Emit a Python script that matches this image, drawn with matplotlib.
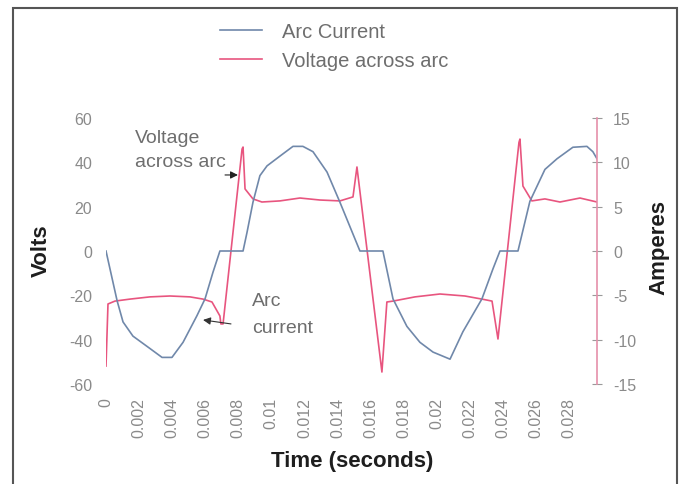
import matplotlib
matplotlib.use("Agg")
import matplotlib.pyplot as plt
from matplotlib.patches import Rectangle
from matplotlib.ticker import FixedLocator, FixedFormatter

plt.rcParams['font.family'] = ['Liberation Sans', 'DejaVu Sans']
plt.rcParams['axes.unicode_minus'] = False

# ---- data ----
t_current = [0.0, 0.00067, 0.00103, 0.00163, 0.00266, 0.00339, 0.00399, 0.00466,
             0.00550, 0.00599, 0.00647, 0.00689, 0.00829, 0.00853, 0.00889, 0.00931,
             0.00974, 0.01052, 0.01131, 0.01191, 0.01252, 0.01337, 0.01415, 0.01536,
             0.01675, 0.01736, 0.01820, 0.01899, 0.01978, 0.02081, 0.02159, 0.02274,
             0.02341, 0.02383, 0.02492, 0.02564, 0.02655, 0.02728, 0.02824, 0.02909,
             0.02945, 0.02970]
arc_current = [0.0, -5.6, -8.0, -9.6, -11.0, -12.0, -12.0, -10.3,
               -7.3, -5.4, -2.4, 0.0, 0.0, 2.1, 5.5, 8.5,
               9.6, 10.7, 11.8, 11.8, 11.2, 8.9, 5.5, 0.0,
               0.0, -5.4, -8.5, -10.3, -11.4, -12.2, -9.1, -5.4,
               -2.0, 0.0, 0.0, 5.6, 9.2, 10.4, 11.7, 11.8,
               11.2, 10.4]

t_voltage = [0.0, 0.00012, 0.00054, 0.00145, 0.00266, 0.00387, 0.00508, 0.00587,
             0.00641, 0.00689, 0.00695, 0.00708, 0.00823, 0.00829, 0.00841, 0.00889,
             0.00943, 0.01052, 0.01173, 0.01294, 0.01415, 0.01494, 0.01518, 0.01554,
             0.01669, 0.01699, 0.01736, 0.01869, 0.02020, 0.02171, 0.02274, 0.02335,
             0.02371, 0.02498, 0.02504, 0.02522, 0.02576, 0.02655, 0.02746, 0.02867,
             0.02970]
voltage = [-51.9, -23.9, -22.6, -21.7, -20.7, -20.3, -20.7, -21.7,
           -23.0, -29.3, -32.9, -32.9, 46.0, 46.9, 28.0, 23.5,
           22.1, 22.6, 23.9, 23.0, 22.6, 24.4, 37.9, 15.8,
           -54.6, -23.0, -22.6, -20.7, -19.4, -20.3, -21.7, -22.6,
           -39.7, 49.0, 50.5, 29.3, 22.6, 23.5, 22.1, 23.9,
           22.1]

x_ticks = [0, 0.002, 0.004, 0.006, 0.008, 0.01, 0.012, 0.014, 0.016, 0.018,
           0.02, 0.022, 0.024, 0.026, 0.028]
x_tick_labels = ['0', '0.002', '0.004', '0.006', '0.008', '0.01', '0.012', '0.014',
                 '0.016', '0.018', '0.02', '0.022', '0.024', '0.026', '0.028']
volt_ticks = [60, 40, 20, 0, -20, -40, -60]
volt_labels = ['60', '40', '20', '0', '-20', '-40', '-60']
amp_ticks = [15, 10, 5, 0, -5, -10, -15]
amp_labels = ['15', '10', '5', '0', '-5', '-10', '-15']

# ---- styles ----
W, H = 681, 485
c_cur = '#7088aa'
c_volt = '#e8557f'
c_tick = '#8a8a8a'
c_text = '#6e6e6e'

fig = plt.figure(figsize=(W / 100, H / 100), dpi=100)
fig.patch.set_facecolor('white')

ax = fig.add_axes([106 / W, 1 - 385 / H, (597 - 106) / W, (385 - 119) / H])
ax2 = ax.twinx()

lv, = ax.plot(t_voltage, voltage, color=c_volt, lw=1.2, zorder=3)
lc, = ax2.plot(t_current, arc_current, color=c_cur, lw=1.2, zorder=2)

ax.set_xlim(0, 0.0297)
ax.set_ylim(-60, 60)
ax2.set_ylim(-15, 15)

for s in ['top', 'bottom', 'left', 'right']:
    ax.spines[s].set_visible(False)
    ax2.spines[s].set_visible(False)
ax2.spines['right'].set_visible(True)
ax2.spines['right'].set_color('#e590aa')
ax2.spines['right'].set_linewidth(1.2)

ax.xaxis.set_major_locator(FixedLocator(x_ticks))
ax.xaxis.set_major_formatter(FixedFormatter(x_tick_labels))
ax.tick_params(axis='x', length=0, pad=9.5, labelsize=11.5, labelcolor=c_tick,
               labelrotation=90)
for lab in ax.get_xticklabels():
    lab.set_va('top')

ax.yaxis.set_major_locator(FixedLocator(volt_ticks))
ax.yaxis.set_major_formatter(FixedFormatter(volt_labels))
ax.tick_params(axis='y', length=0, pad=10, labelsize=11.5, labelcolor=c_tick)

ax2.yaxis.set_major_locator(FixedLocator(amp_ticks))
ax2.yaxis.set_major_formatter(FixedFormatter(amp_labels))
ax2.tick_params(axis='y', direction='inout', length=7, width=0.8, color='#9a9a9a',
                pad=8, labelsize=11.5, labelcolor=c_tick)

# axis titles
fig.text(41 / W, 1 - 251 / H, 'Volts', rotation=90, ha='center', va='center',
         fontsize=16, fontweight='bold', color='#1e1e1e')
fig.text(659 / W, 1 - 248 / H, 'Amperes', rotation=90, ha='center', va='center',
         fontsize=16, fontweight='bold', color='#1e1e1e')
fig.text(352 / W, 1 - 462 / H, 'Time (seconds)', ha='center', va='center',
         fontsize=16, fontweight='bold', color='#1e1e1e')

# legend
leg = fig.legend([lc, lv], ['Arc Current', 'Voltage across arc'],
                 loc='upper left', bbox_to_anchor=(220 / W, 1 - 23 / H),
                 frameon=False, fontsize=14.5, handlelength=2.1, handletextpad=1.0,
                 labelspacing=0.5, labelcolor=c_text, borderaxespad=0, borderpad=0)

# annotations
ax.text(0.00175, 45.8, 'Voltage\nacross arc', ha='left', va='center', fontsize=14,
        color=c_text, linespacing=1.6)
ax.annotate('', xy=(0.00798, 34.3), xytext=(0.00720, 34.3),
            arrowprops=dict(arrowstyle='-|>', color='#222222', lw=0.8,
                            mutation_scale=11, shrinkA=0, shrinkB=0))
ax.text(0.00883, -28.5, 'Arc\ncurrent', ha='left', va='center', fontsize=14,
        color=c_text, linespacing=1.75)
ax.annotate('', xy=(0.00587, -31.1), xytext=(0.00756, -32.9),
            arrowprops=dict(arrowstyle='-|>', color='#333333', lw=0.8,
                            mutation_scale=11, shrinkA=0, shrinkB=0))

# outer frame
fig.add_artist(Rectangle((13 / W, -0.01), (677 - 13) / W, 1.01 - 9 / H,
                         transform=fig.transFigure, fill=False,
                         edgecolor='#555555', lw=1.5))

fig.savefig('out.png', dpi=100)
